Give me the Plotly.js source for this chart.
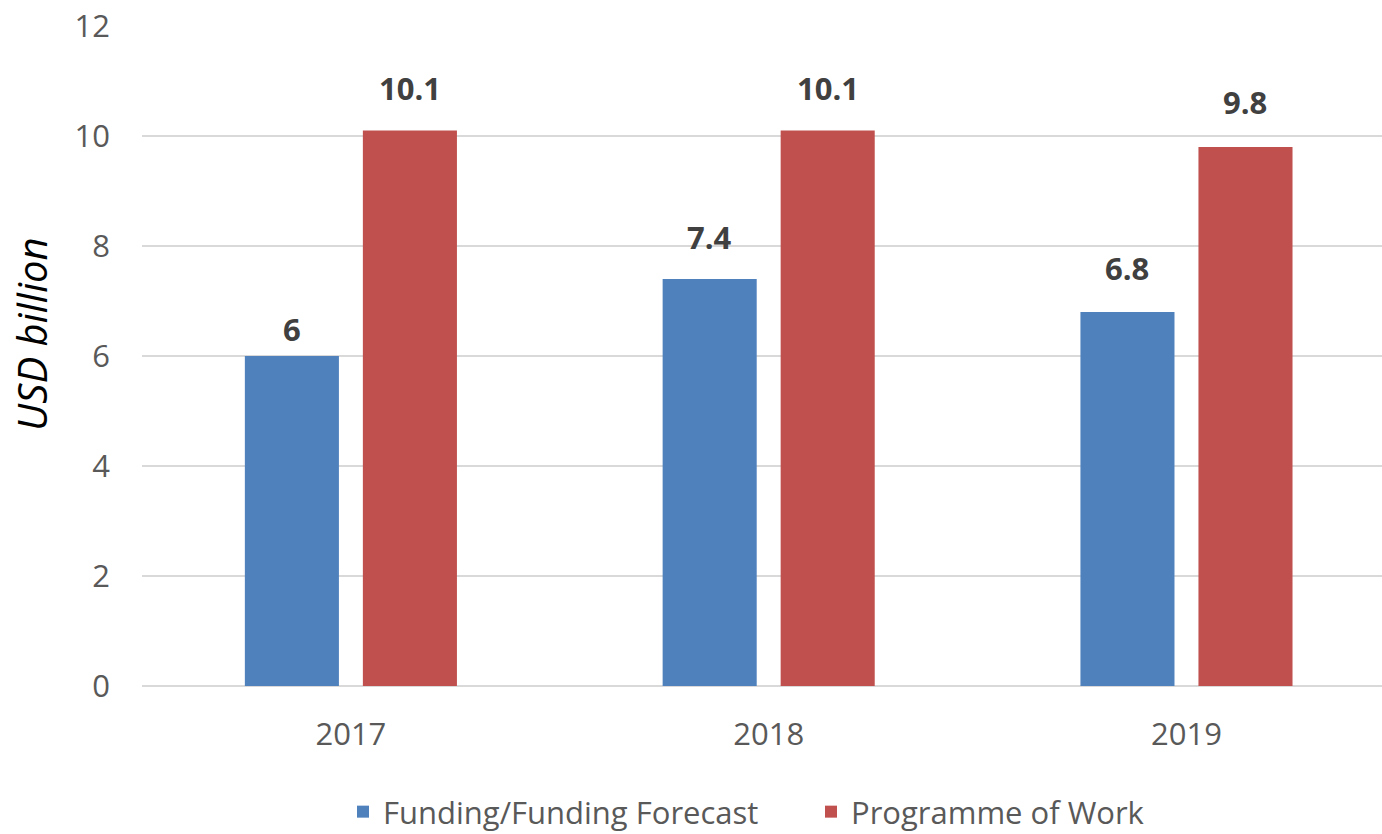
<!DOCTYPE html>
<html>
<head>
<meta charset="utf-8">
<script src="https://cdn.plot.ly/plotly-3.0.1.min.js"></script>
<style>html,body{margin:0;padding:0;background:#fff;}#chart{width:1382px;height:834px;}</style>
</head>
<body>
<div id="chart"></div>
<script>
const years = ['2017', '2018', '2019'];
const funding = [6, 7.4, 6.8];
const programme = [10.1, 10.1, 9.8];
const fundingLabels = ['6', '7.4', '6.8'];
const programmeLabels = ['10.1', '10.1', '9.8'];
const seriesNames = ['Funding/Funding Forecast', 'Programme of Work'];
const yTicks = [0, 2, 4, 6, 8, 10, 12];
const yTitle = 'USD billion';

const FONT = '"Open Sans", "Noto Sans", sans-serif';

// label gap above bars (pixels), as placed in the original
const fundingLabelGap = [4, 19, 21];
const programmeLabelGap = [20, 20, 22];

const traces = [
  {type: 'bar', name: seriesNames[0], x: years, y: funding, marker: {color: '#4F81BD'}, hoverinfo: 'none'},
  {type: 'bar', name: seriesNames[1], x: years, y: programme, marker: {color: '#C0504D'}, hoverinfo: 'none'}
];

const labelFont = {family: FONT, size: 31, color: '#404040'};
const annotations = [];
years.forEach((yr, i) => {
  annotations.push({x: i, y: funding[i], text: '<b>' + fundingLabels[i] + '</b>', xref: 'x', yref: 'y', showarrow: false,
    xanchor: 'center', yanchor: 'bottom', xshift: -59, yshift: fundingLabelGap[i], font: labelFont});
  annotations.push({x: i, y: programme[i], text: '<b>' + programmeLabels[i] + '</b>', xref: 'x', yref: 'y', showarrow: false,
    xanchor: 'center', yanchor: 'bottom', xshift: 59, yshift: programmeLabelGap[i], font: labelFont});
});
// y-axis title
annotations.push({xref: 'paper', yref: 'paper', x: 0, y: 0.532, xshift: -110, xanchor: 'center', yanchor: 'middle',
  text: '<i>' + yTitle + '</i>', textangle: -90, showarrow: false, font: {family: FONT, size: 40, color: '#000'}});

const layout = {
  width: 1382, height: 834,
  margin: {l: 142, r: 0, t: 26, b: 148, pad: 0},
  paper_bgcolor: '#fff', plot_bgcolor: '#fff',
  barmode: 'group', bargap: 0.435, bargroupgap: 0.203,
  font: {family: FONT, color: '#595959'},
  showlegend: true,
  legend: {orientation: 'h', xref: 'container', yref: 'container', x: 343 / 1382, xanchor: 'left', y: 22 / 834, yanchor: 'middle',
    font: {family: FONT, size: 31, color: '#595959'}, traceorder: 'normal', entrywidth: 423, entrywidthmode: 'pixels'},
  xaxis: {type: 'category', range: [-0.5, 2.468], showgrid: false, zeroline: false, showline: false,
    ticks: '', tickfont: {family: FONT, size: 31, color: '#595959'}, ticklabelstandoff: 27, fixedrange: true},
  yaxis: {range: [0, 12], tickvals: yTicks, ticktext: yTicks.map(String), showgrid: true, gridcolor: '#D9D9D9', gridwidth: 2,
    zeroline: true, zerolinecolor: '#D9D9D9', zerolinewidth: 2, showline: false, ticks: '',
    tickfont: {family: FONT, size: 31, color: '#595959'}, ticklabelstandoff: 31},
  annotations: annotations
};

Plotly.newPlot('chart', traces, layout, {displayModeBar: false, staticPlot: true});
</script>
</body>
</html>
